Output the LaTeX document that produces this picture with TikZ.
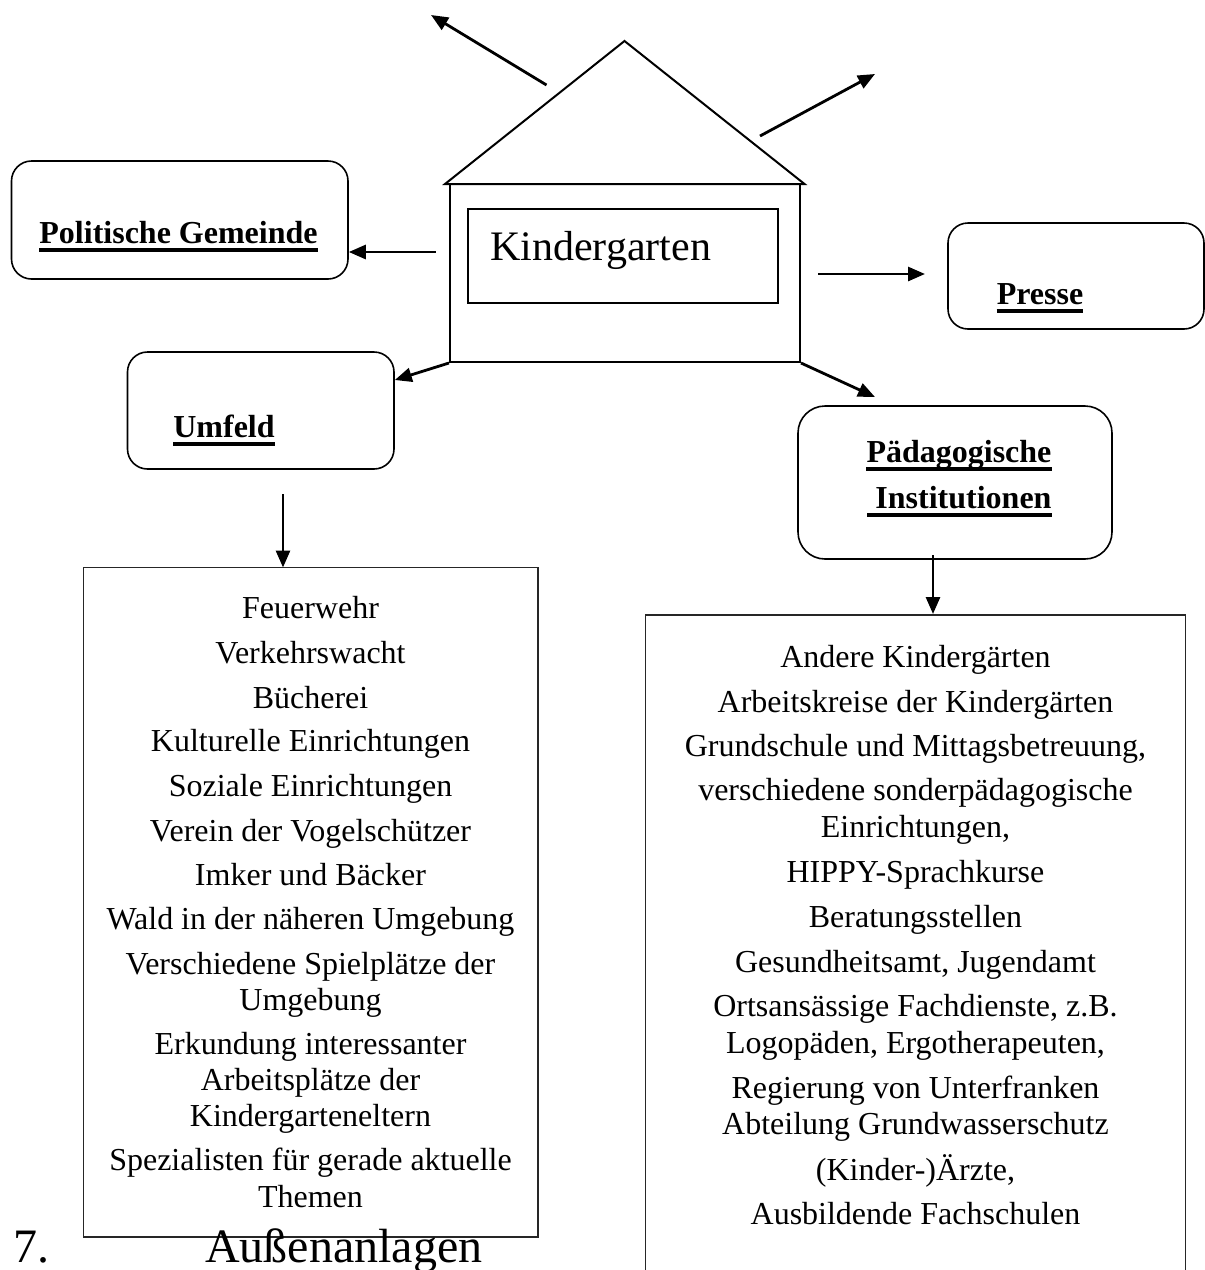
\documentclass[tikz,border=0pt]{standalone}
\usepackage{fontspec}
\setmainfont{Liberation Serif}
\usetikzlibrary{arrows.meta}
\begin{document}
\begin{tikzpicture}[x=1pt,y=-1pt,
  rbox/.style={draw, line width=1.6pt, rounded corners=20pt, inner sep=0pt},
  lbox/.style={draw=black!85, line width=1.5pt, inner sep=0pt},
  hline/.style={line width=2pt},
  arr/.style={line width=2.8pt, -{Triangle[length=17pt,width=14pt]}},
  lab/.style={font=\fontsize{32}{38}\selectfont\bfseries, inner sep=0pt, anchor=base},
  ulin/.style={line width=4pt},
  item/.style={font=\fontsize{32}{38}\selectfont, inner sep=0pt, anchor=base},
  big/.style={font=\fontsize{48}{54}\selectfont, inner sep=0pt, anchor=base west}]
\useasboundingbox (0,0) rectangle (1205,1270);
\clip (0,0) rectangle (1205,1270);
\fill[white] (0,0) rectangle (1205,1270);

% house
\node[draw, hline, minimum width=350pt, minimum height=178pt, inner sep=0pt] (house) at (625,273) {};
\coordinate (roofL) at (445,184);
\coordinate (apex) at (624.5,41);
\coordinate (roofR) at (804.5,184);
\draw[hline, line join=miter] (roofL) -- (apex) -- (roofR) -- cycle;
\node[draw, line width=1.4pt, minimum width=310pt, minimum height=94pt, inner sep=0pt] (kgbox) at (623,256) {};
\node[anchor=base west, font=\fontsize{42}{48}\selectfont, inner sep=0pt] (kg) at (490,260) {Kindergarten};

% boxes
\node[rbox, minimum width=336.5pt, minimum height=118pt] (pg) at (179.75,220) {};
\node[lab] (pgl) at (178.5,243) {Politische Gemeinde};
\draw[ulin] ([yshift=-6.5pt]pgl.base west) -- ([yshift=-6.5pt]pgl.base east);

\node[rbox, minimum width=266.5pt, minimum height=117pt] (uf) at (260.75,410.5) {};
\node[lab] (ufl) at (224,437) {Umfeld};
\draw[ulin] ([yshift=-6.5pt]ufl.base west) -- ([yshift=-6.5pt]ufl.base east);

\node[rbox, minimum width=256pt, minimum height=106pt] (pr) at (1076,276) {};
\node[lab] (prl) at (1040,304) {Presse};
\draw[ulin] ([yshift=-6.5pt]prl.base west) -- ([yshift=-6.5pt]prl.base east);

\node[rbox, rounded corners=27pt, minimum width=314pt, minimum height=153pt] (pd) at (955,482.5) {};
\node[lab] (pdl1) at (959,462) {Pädagogische};
\draw[ulin] ([yshift=-6.5pt]pdl1.base west) -- ([yshift=-6.5pt]pdl1.base east);
\node[lab] (pdl2) at (959.5,508) {\ Institutionen};
\draw[ulin] ([yshift=-6.5pt]pdl2.base west) -- ([yshift=-6.5pt]pdl2.base east);

% list boxes
\node[lbox, minimum width=454.5pt, minimum height=669.5pt] (ul) at (310.75,902.25) {};
\node[lbox, minimum width=540pt, minimum height=675pt] (pl) at (915.5,952.5) {};

\foreach \yy/\txt [count=\i] in {618/Feuerwehr, 663/Verkehrswacht, 708/Bücherei,
  751/Kulturelle Einrichtungen, 796/Soziale Einrichtungen, 841/Verein der Vogelschützer,
  885/Imker und Bäcker, 929/Wald in der näheren Umgebung, 974/Verschiedene Spielplätze der,
  1010/Umgebung, 1054/Erkundung interessanter, 1090/Arbeitsplätze der,
  1126/Kindergarteneltern, 1170/Spezialisten für gerade aktuelle, 1207/Themen}
  \node[item] (u\i) at (310.5,\yy) {\txt};

\foreach \yy/\txt [count=\i] in {667/Andere Kindergärten, 712/Arbeitskreise der Kindergärten,
  756/{Grundschule und Mittagsbetreuung,}, 800/verschiedene sonderpädagogische,
  837/{Einrichtungen,}, 882.5/HIPPY-Sprachkurse, 927/Beratungsstellen,
  972/{Gesundheitsamt, Jugendamt}, 1016.5/{Ortsansässige Fachdienste, z.B.},
  1053/{Logopäden, Ergotherapeuten,}, 1098/Regierung von Unterfranken,
  1134/Abteilung Grundwasserschutz, 1180/{(Kinder-)Ärzte,}, 1224/Ausbildende Fachschulen}
  \node[item] (p\i) at (915.5,\yy) {\txt};

% bottom heading
\node[big] (seven) at (13,1262) {7.};
\node[big] (aussen) at (205,1262) {Außenanlagen};

% connectors
\coordinate (nwT) at (546.5,85);
\coordinate (nwH) at (431,15);
\coordinate (neT) at (760,136);
\coordinate (neH) at (875,74);
\coordinate (lT) at (435.5,252);
\coordinate (rT) at (818,274);
\coordinate (rH) at (925,274);
\coordinate (urH) at (875,397);
\coordinate (ufT) at (283,494);
\coordinate (ufH) at (283,567.5);
\coordinate (pdT) at (933,555);
\coordinate (pdH) at (933,614);
\draw[arr] (nwT) -- (nwH);
\draw[arr] (neT) -- (neH);
\draw[arr] (lT) -- (lT -| pg.east);
\draw[arr] (rT) -- (rH);
\draw[arr] (house.south west) -- (uf.east |- 0,380);
\draw[arr] (house.south east) -- (urH);
\draw[arr] (ufT) -- (ufH);
\draw[arr] (pdT) -- (pdH);
\end{tikzpicture}
\end{document}
